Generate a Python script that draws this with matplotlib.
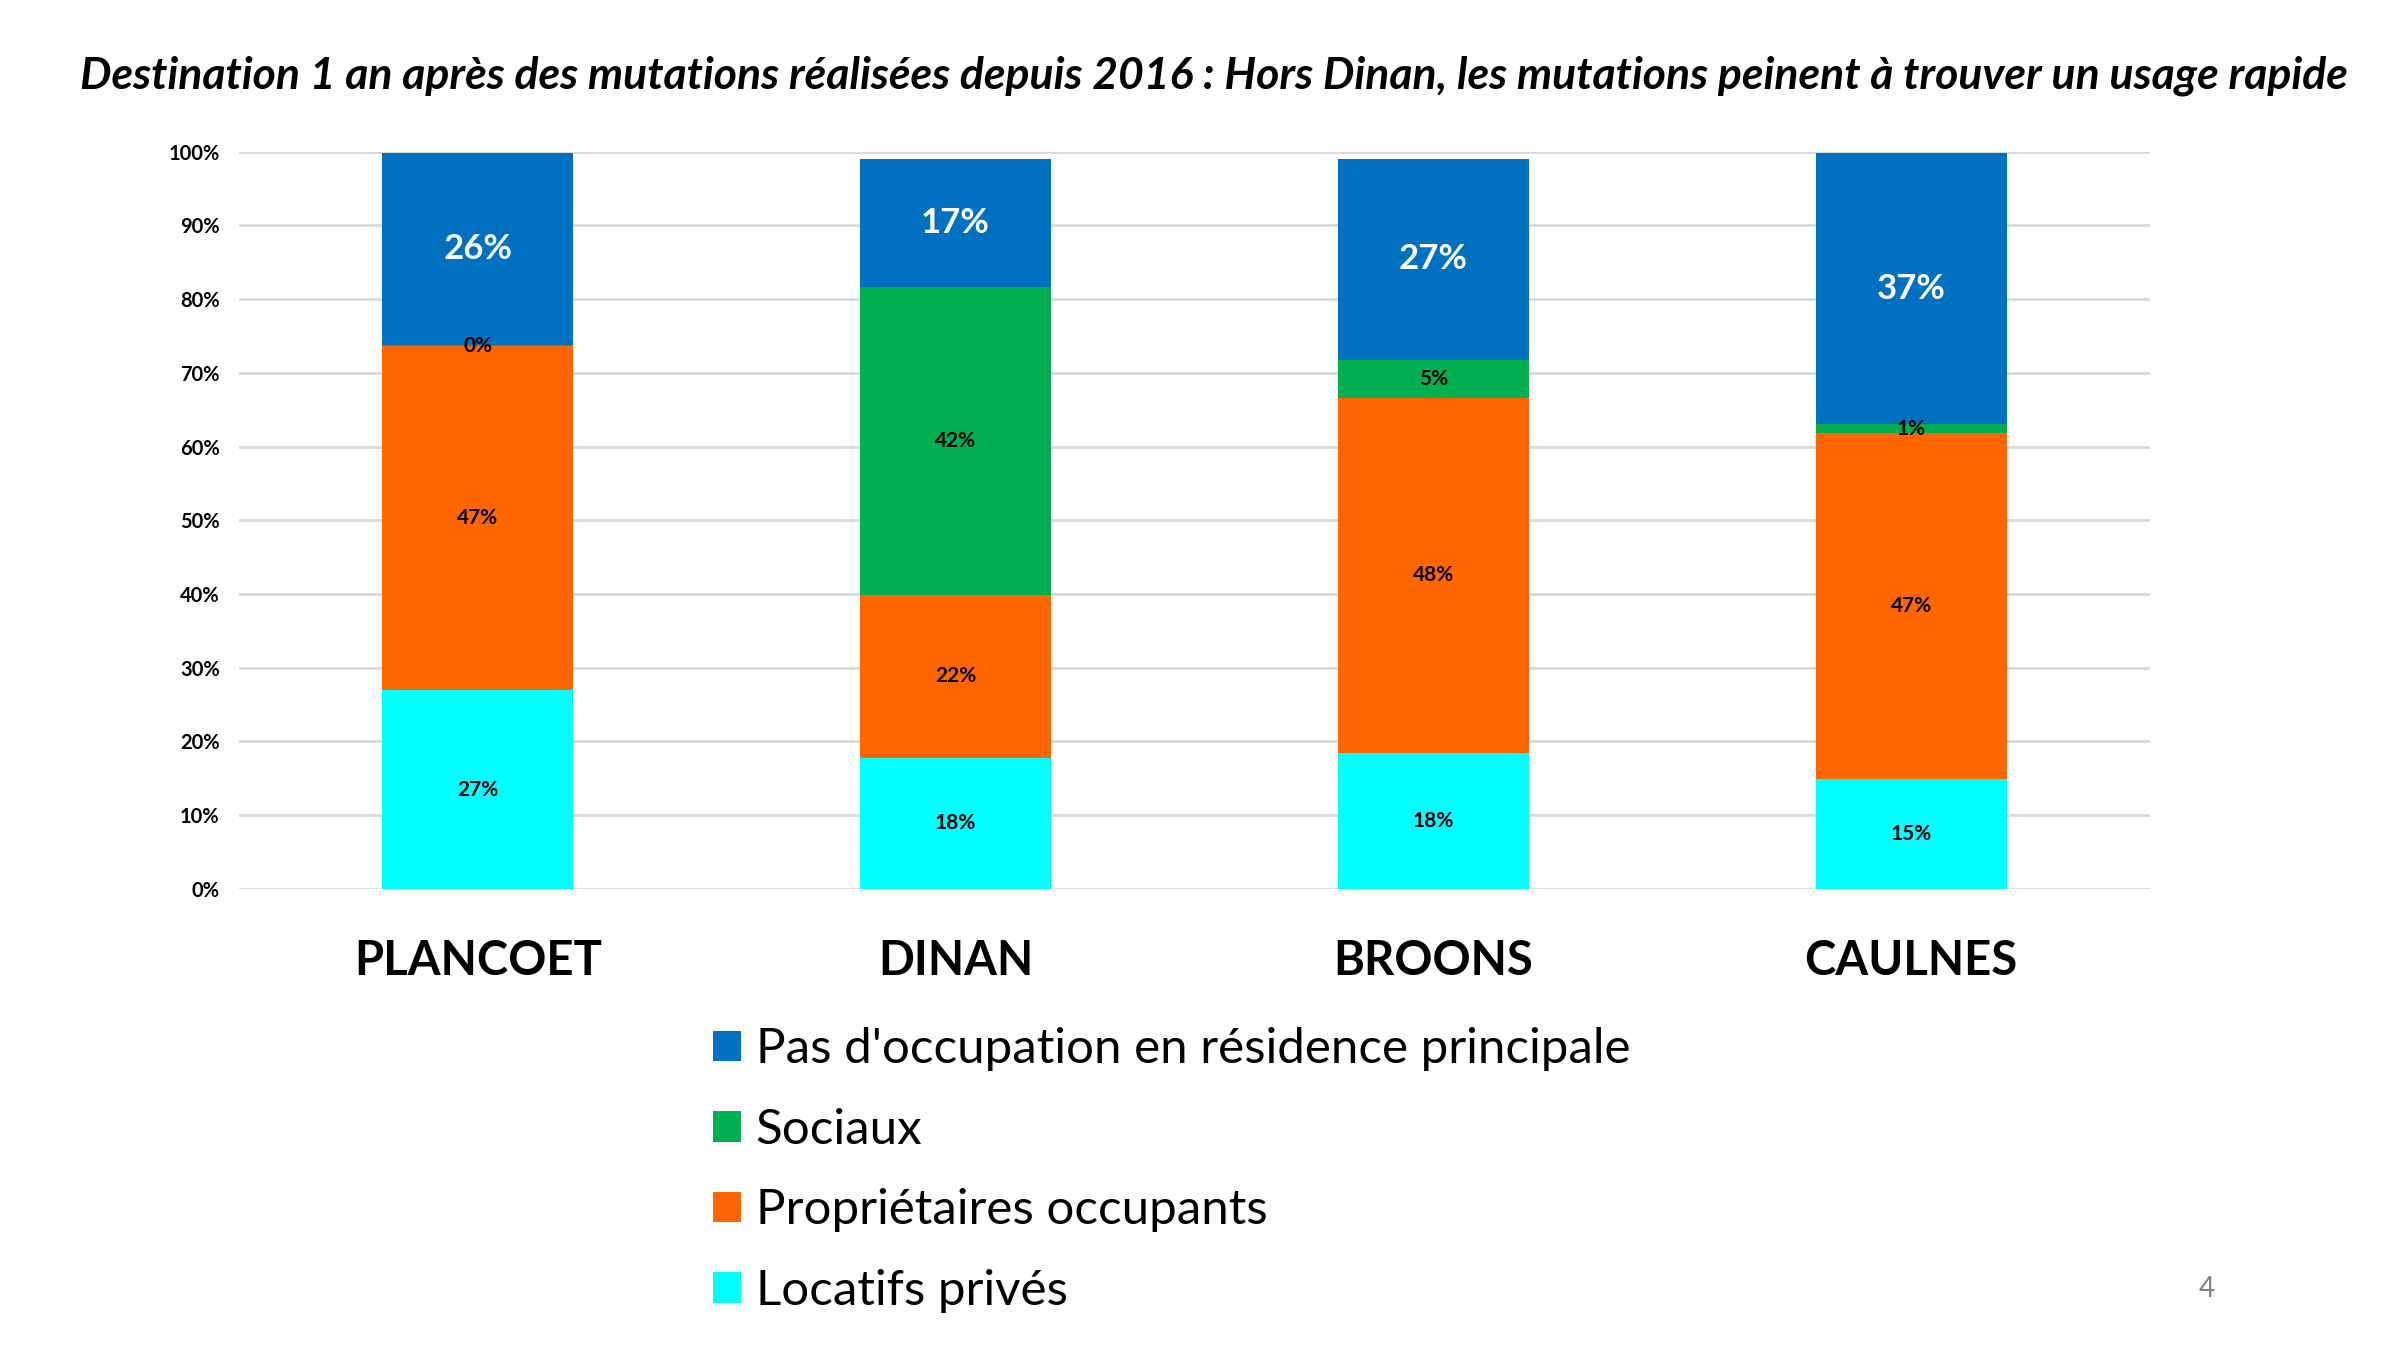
import matplotlib.pyplot as plt
import numpy as np

plt.rcParams['font.family'] = ['Lato', 'DejaVu Sans']

communes = ['PLANCOET', 'DINAN', 'BROONS', 'CAULNES']
locatifs = [26.9, 17.8, 18.4, 14.9]
proprietaires = [46.7, 22.0, 48.2, 46.9]
sociaux = [0.2, 41.8, 5.2, 1.2]
pas_occupation = [26.0, 17.4, 27.2, 36.8]

series = [
    ('Locatifs privés', locatifs, '#00FFFF'),
    ('Propriétaires occupants', proprietaires, '#FF6600'),
    ('Sociaux', sociaux, '#00B050'),
    ("Pas d'occupation en résidence principale", pas_occupation, '#0070C0'),
]

fig = plt.figure(figsize=(24, 13.5), dpi=100)
ax = fig.add_axes([0.0996, 0.3417, 0.7962, 0.5459])

x = np.arange(len(communes))
bottom = np.zeros(len(communes))
handles = []
for name, vals, color in series:
    vals = np.array(vals)
    bars = ax.bar(x, vals, 0.4, bottom=bottom, color=color, label=name, zorder=3)
    handles.append(bars)
    for xi, b, v in zip(x, bottom, vals):
        if color == '#0070C0':
            ax.text(xi, b + v / 2, f'{v:.0f}%', ha='center', va='center',
                    fontsize=25, fontweight='bold', color='white', zorder=4)
        else:
            ax.text(xi, b + v / 2, f'{v:.0f}%', ha='center', va='center',
                    fontsize=15, fontweight='bold', color='black', zorder=4)
    bottom += vals

ax.set_xlim(-0.5, 3.5)
ax.set_ylim(0, 100)
ax.set_yticks(np.arange(0, 101, 10))
ax.set_yticklabels([f'{t}%' for t in range(0, 101, 10)], fontsize=14.5, fontweight='bold')
ax.set_xticks(x)
ax.set_xticklabels(communes, fontsize=34, fontweight='bold')
ax.tick_params(axis='x', length=0, pad=36)
ax.tick_params(axis='y', length=0, pad=14)
ax.grid(axis='y', color='#d9d9d9', linewidth=2, zorder=0)
for s in ax.spines.values():
    s.set_visible(False)

fig.text(0.506, 0.944, 'Destination 1 an après des mutations réalisées depuis 2016 : '
         'Hors Dinan, les mutations peinent à trouver un usage rapide',
         ha='center', va='center', fontsize=32, fontweight='bold', fontstyle='italic')

fig.legend(handles[::-1], [s[0] for s in series][::-1], loc='upper left',
           bbox_to_anchor=(0.297, 0.239), frameon=False, fontsize=35.5,
           handlelength=0.57, handleheight=0.57, handletextpad=0.3,
           labelspacing=0.74, borderpad=0, borderaxespad=0)

fig.text(0.9196, 0.045, '4', ha='center', va='center', fontsize=20, color='#7f7f7f')

fig.savefig('out.png', dpi=100)
